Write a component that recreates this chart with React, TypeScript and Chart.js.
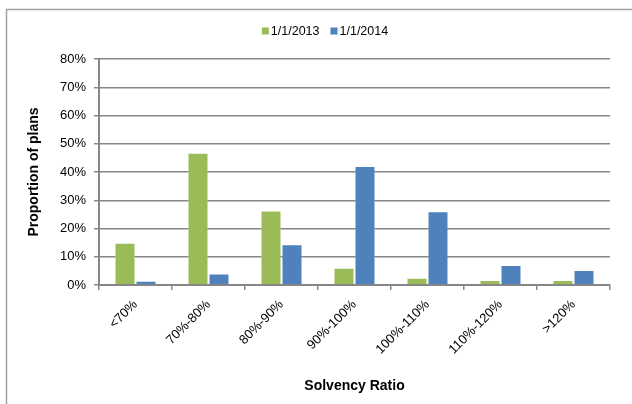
import React, { useEffect, useRef } from "react";
import { Chart, registerables } from "chart.js";

Chart.register(...registerables);

const categories = ["<70%", "70%-80%", "80%-90%", "90%-100%", "100%-110%", "110%-120%", ">120%"];
const series2013 = [15.0, 46.8, 26.4, 6.1, 2.6, 1.8, 1.8];
const series2014 = [1.5, 4.1, 14.4, 42.1, 26.1, 7.1, 5.3];
const seriesNames = ["1/1/2013", "1/1/2014"];
const seriesColors = ["#9BBB59", "#4F81BD"];
const yMax = 80;
const yStep = 10;

const FONT = "'Liberation Sans', Arial, sans-serif";

const framePlugin = {
  id: "frame",
  beforeDraw(chart: any) {
    const ctx = chart.ctx;
    ctx.save();
    ctx.fillStyle = "#ffffff";
    ctx.fillRect(0, 0, chart.width, chart.height);
    ctx.strokeStyle = "#a0a0a0";
    ctx.lineWidth = 1.5;
    ctx.beginPath();
    ctx.moveTo(6.5, chart.height);
    ctx.lineTo(6.5, 9.5);
    ctx.lineTo(chart.width, 9.5);
    ctx.stroke();
    ctx.restore();
  },
};

// Legend drawn from the dataset labels / colours, centred like the original
const legendPlugin = {
  id: "topLegend",
  afterDraw(chart: any) {
    const ctx = chart.ctx;
    const ds = chart.data.datasets;
    ctx.save();
    ctx.font = `12.5px ${FONT}`;
    const box = 7;
    const gapBoxText = 2;
    const gapItems = 11;
    const widths = ds.map((d: any) => box + gapBoxText + ctx.measureText(d.label).width);
    const total = widths.reduce((a: number, b: number) => a + b, 0) + gapItems * (ds.length - 1);
    let x = 325 - total / 2;
    const cy = 31;
    ctx.textBaseline = "middle";
    ctx.textAlign = "left";
    ds.forEach((d: any, i: number) => {
      ctx.fillStyle = d.backgroundColor;
      ctx.fillRect(x, cy - box / 2, box, box);
      ctx.fillStyle = "#000";
      ctx.fillText(d.label, x + box + gapBoxText, cy + 0.5);
      x += widths[i] + gapItems;
    });
    ctx.restore();
  },
};

export default function App() {
  const ref = useRef<HTMLCanvasElement | null>(null);

  useEffect(() => {
    if (!ref.current) return;
    const chart = new Chart(ref.current, {
      type: "bar",
      data: {
        labels: categories,
        datasets: [
          {
            label: seriesNames[0],
            data: series2013,
            backgroundColor: seriesColors[0],
            borderColor: "rgba(255,255,255,0.3)",
            borderWidth: 1,
            categoryPercentage: 0.575,
            barPercentage: 1.0,
          },
          {
            label: seriesNames[1],
            data: series2014,
            backgroundColor: seriesColors[1],
            borderColor: "rgba(255,255,255,0.3)",
            borderWidth: 1,
            categoryPercentage: 0.575,
            barPercentage: 1.0,
          },
        ],
      },
      options: {
        responsive: false,
        animation: false,
        devicePixelRatio: 1,
        layout: { padding: { left: 12, right: 22, top: 59, bottom: 5 } },
        plugins: {
          legend: { display: false },
          tooltip: { enabled: false },
        },
        scales: {
          x: {
            grid: {
              display: true,
              drawOnChartArea: false,
              drawTicks: true,
              tickLength: 5,
              color: "#868686",
              lineWidth: 1.5,
            },
            border: { display: true, color: "#868686", width: 2 },
            ticks: {
              maxRotation: 45,
              minRotation: 45,
              color: "#000",
              font: { family: FONT, size: 13 },
              padding: 7,
            },
            title: {
              display: true,
              text: "Solvency Ratio",
              color: "#000",
              font: { family: FONT, size: 14, weight: "bold" },
              padding: { top: 4, bottom: 4 },
            },
            afterFit(scale: any) {
              scale.height = 114;
            },
          },
          y: {
            min: 0,
            max: yMax,
            grid: {
              color: "#868686",
              lineWidth: 1.5,
              tickLength: 5,
              drawTicks: true,
            },
            border: { display: true, color: "#868686", width: 2 },
            ticks: {
              stepSize: yStep,
              color: "#000",
              font: { family: FONT, size: 13 },
              padding: 8,
              callback: (v: any) => v + "%",
            },
            title: {
              display: true,
              text: "Proportion of plans",
              color: "#000",
              font: { family: FONT, size: 14, weight: "bold" },
              padding: { top: 14, bottom: 4 },
            },
            afterFit(scale: any) {
              scale.width = 87;
            },
          },
        },
      },
      plugins: [framePlugin, legendPlugin],
    });
    return () => chart.destroy();
  }, []);

  return (
    <div style={{ position: "absolute", left: 0, top: 0, width: 632, height: 404 }}>
      <canvas ref={ref} width={632} height={404} />
    </div>
  );
}
